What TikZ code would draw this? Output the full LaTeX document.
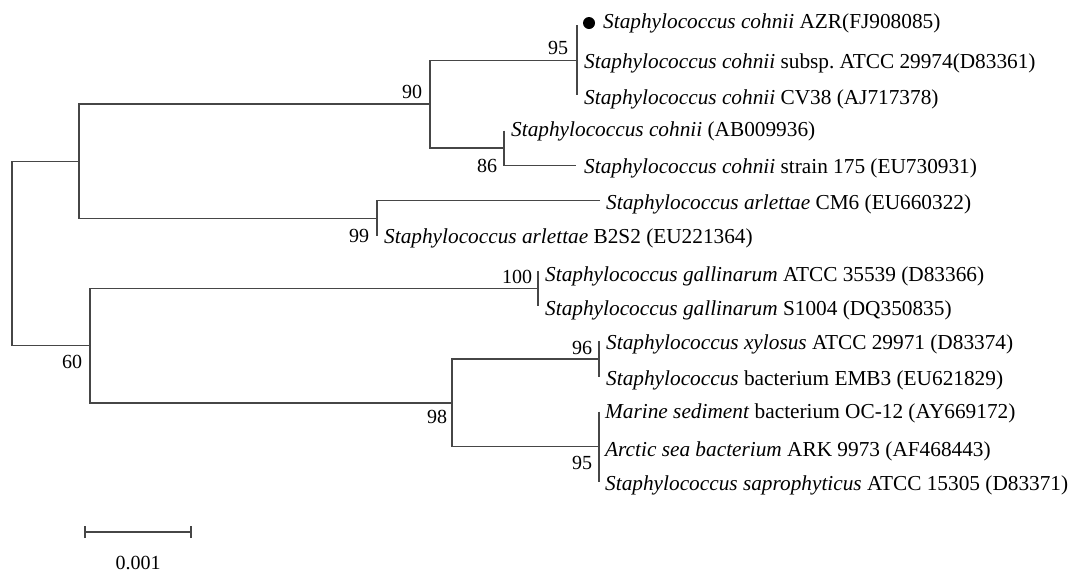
\documentclass[tikz,border=0pt]{standalone}
\usepackage{fontspec}
\setmainfont{Liberation Serif}
\definecolor{treeline}{RGB}{70,70,70}
\begin{document}
\begin{tikzpicture}[x=1pt,y=-1pt,
  branch/.style={draw=treeline,line width=1.3pt},
  leaf/.style={anchor=west,inner sep=0pt,font=\fontsize{21.3}{24}\selectfont},
  boot/.style={inner sep=0pt,font=\fontsize{20}{23}\selectfont},
  dotmark/.style={circle,fill=black,inner sep=0pt,minimum size=12pt}]
\useasboundingbox (0,0) rectangle (1076,574);
% leaf tips
\coordinate (t1) at (577,25);
\coordinate (t2) at (577,60.2);
\coordinate (t3) at (577,95.3);
\coordinate (t4) at (504,130.5);
\coordinate (t5) at (576,165.6);
\coordinate (t6) at (600,200.8);
\coordinate (t7) at (377,235.9);
\coordinate (t8) at (538,271.1);
\coordinate (t9) at (538,306.2);
\coordinate (t10) at (599,341.4);
\coordinate (t11) at (599,376.5);
\coordinate (t12) at (599,411.7);
\coordinate (t13) at (599,446.8);
\coordinate (t14) at (599,482);
% internal nodes
\coordinate (nC) at (577,60.2);
\coordinate (nD) at (504,148);
\coordinate (nB) at (430,104.1);
\coordinate (nE) at (377,218.4);
\coordinate (nA) at (79,161.2);
\coordinate (nG) at (538,288.6);
\coordinate (nI) at (599,359);
\coordinate (nJ) at (599,446.8);
\coordinate (nH) at (452,402.9);
\coordinate (nF) at (90,345.8);
\coordinate (nR) at (12,253.5);
% branches
\draw[branch] (nA) -| (nR) |- (nF);
\draw[branch] (nB) -| (nA) |- (nE);
\draw[branch] (nC) -| (nB) |- (nD);
\draw[branch] (t1) -- (t3);
\draw[branch] (t4) -| (nD) |- (t5);
\draw[branch] (t6) -| (nE) |- (t7);
\draw[branch] (nG) -| (nF) |- (nH);
\draw[branch] (t8) -- (t9);
\draw[branch] (nI) -| (nH) |- (nJ);
\draw[branch] (t10) -- (t11);
\draw[branch] (t12) -- (t14);
% bootstrap values
\node[boot] (b95a) at (558,48) {95};
\node[boot] (b90) at (412,92) {90};
\node[boot] (b86) at (487,166) {86};
\node[boot] (b99) at (359,236) {99};
\node[boot] (b100) at (517,277) {100};
\node[boot] (b60) at (72,362) {60};
\node[boot] (b98) at (437,417) {98};
\node[boot] (b96) at (582,348) {96};
\node[boot] (b95b) at (582,463) {95};
% leaf labels
\node[dotmark] (dot) at (589,23) {};
\node[leaf] (l1) at (603,23) {\textit{Staphylococcus cohnii} AZR(FJ908085)};
\node[leaf] (l2) at (584,63) {\textit{Staphylococcus cohnii} subsp.\ ATCC 29974(D83361)};
\node[leaf] (l3) at (584,99) {\textit{Staphylococcus cohnii} CV38 (AJ717378)};
\node[leaf] (l4) at (511,131) {\textit{Staphylococcus cohnii} (AB009936)};
\node[leaf] (l5) at (584,168) {\textit{Staphylococcus cohnii} strain 175 (EU730931)};
\node[leaf] (l6) at (606,204) {\textit{Staphylococcus arlettae} CM6 (EU660322)};
\node[leaf] (l7) at (384,238) {\textit{Staphylococcus arlettae} B2S2 (EU221364)};
\node[leaf] (l8) at (545,276) {\textit{Staphylococcus gallinarum} ATCC 35539 (D83366)};
\node[leaf] (l9) at (545,310) {\textit{Staphylococcus gallinarum} S1004 (DQ350835)};
\node[leaf] (l10) at (606,344) {\textit{Staphylococcus xylosus} ATCC 29971 (D83374)};
\node[leaf] (l11) at (606,380) {\textit{Staphylococcus} bacterium EMB3 (EU621829)};
\node[leaf] (l12) at (605,413) {\textit{Marine sediment} bacterium OC-12 (AY669172)};
\node[leaf] (l13) at (605,451) {\textit{Arctic sea bacterium} ARK 9973 (AF468443)};
\node[leaf] (l14) at (605,485) {\textit{Staphylococcus saprophyticus} ATCC 15305 (D83371)};
% scale bar
\coordinate (s1) at (85,532);
\coordinate (s2) at (191,532);
\draw[branch] (s1) -- (s2);
\draw[branch] ([yshift=-6pt]s1) -- ([yshift=6pt]s1);
\draw[branch] ([yshift=-6pt]s2) -- ([yshift=6pt]s2);
\node[boot] (sl) at (138,563) {0.001};
\end{tikzpicture}
\end{document}
